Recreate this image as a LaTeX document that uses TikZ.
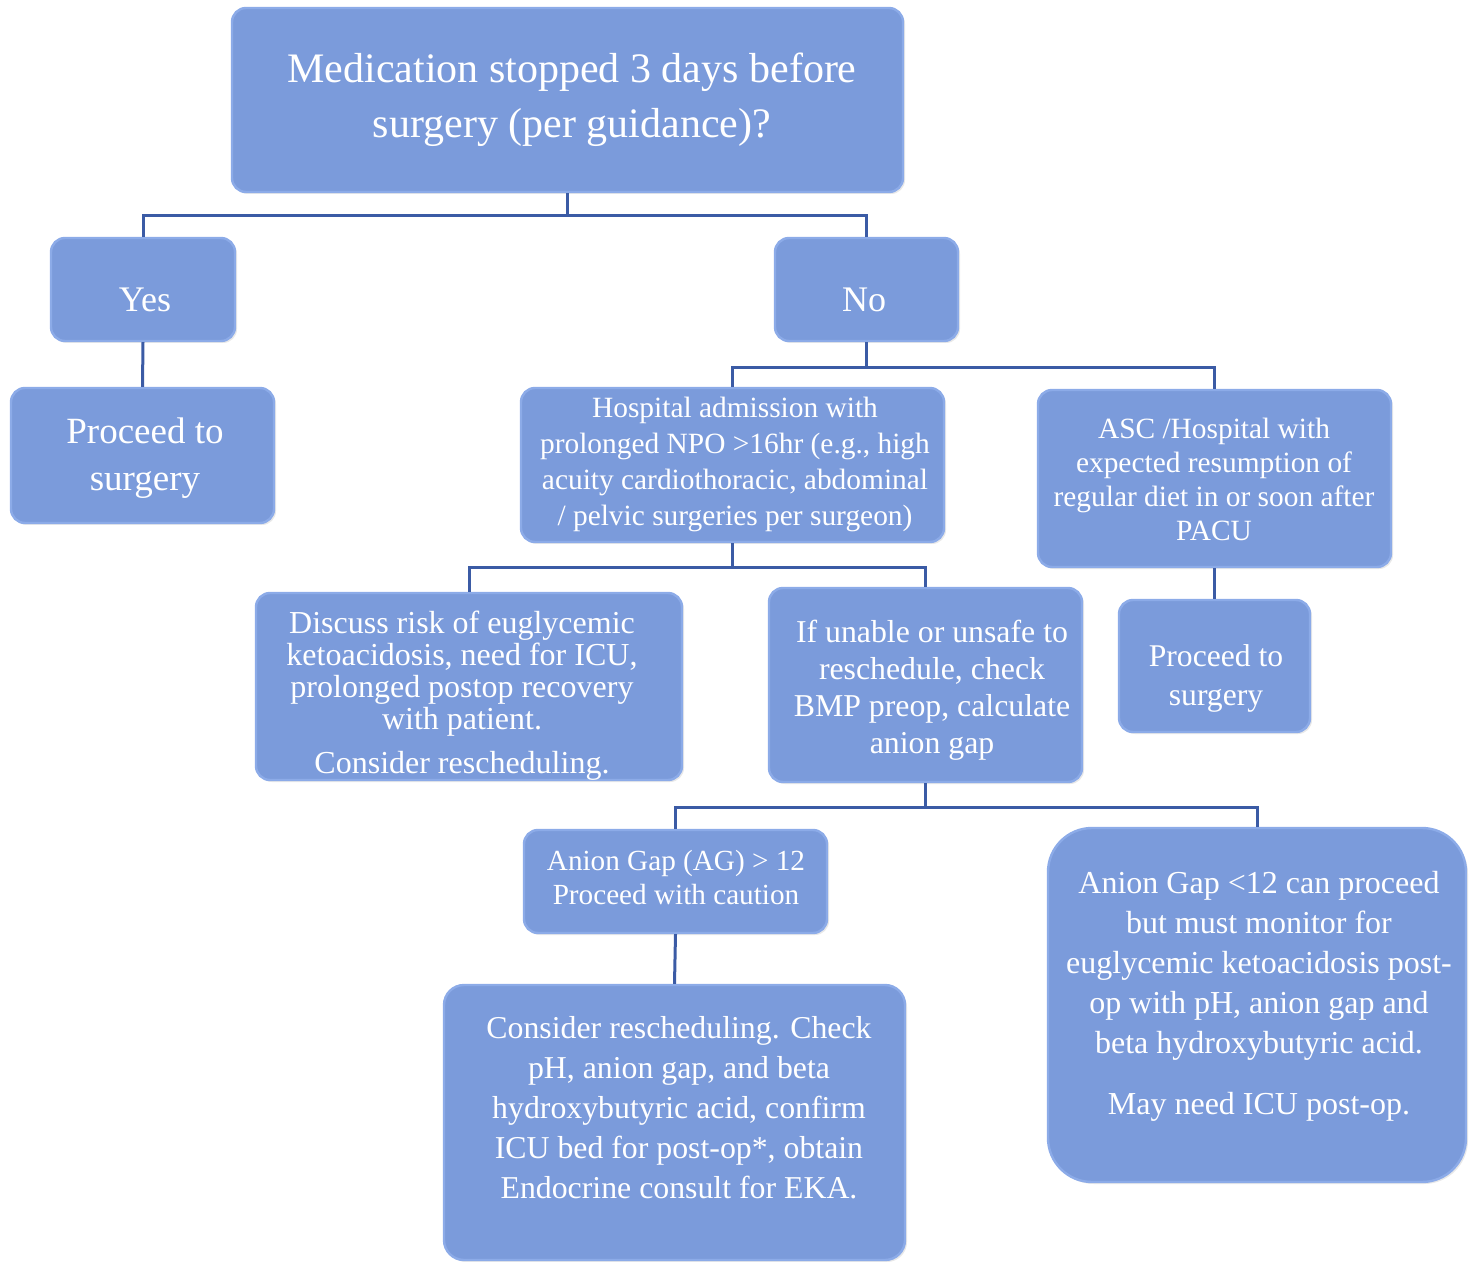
\documentclass[tikz,border=0pt]{standalone}
\usepackage{fontspec}
\setmainfont{Liberation Serif}
\usetikzlibrary{shadows}
\definecolor{boxblue}{HTML}{7B9BDB}
\definecolor{edgeblue}{HTML}{8CABE8}
\definecolor{connblue}{HTML}{3B5BA5}
\tikzset{
  boxshape/.style={draw=edgeblue, line width=1.2pt, fill=boxblue, rounded corners=7pt,
    inner sep=0pt, drop shadow={opacity=0.18, shadow xshift=1pt, shadow yshift=-1pt}},
  boxtext/.style={text=white, align=center, inner sep=0pt, yshift=-1.5pt},
  conn/.style={draw=connblue, line width=1.5pt}
}
\begin{document}
\begin{tikzpicture}[x=0.5pt, y=-0.5pt]
\useasboundingbox (0,0) rectangle (1473,1262);
% boxes
\node[boxshape, minimum width=335.5pt, minimum height=92pt] (top) at (567.5,100) {};
\node[boxshape, minimum width=92pt, minimum height=51.5pt] (yes) at (143,289.5) {};
\node[boxshape, minimum width=91.5pt, minimum height=51.5pt] (no) at (866.5,289.5) {};
\node[boxshape, minimum width=131.5pt, minimum height=67.5pt] (procL) at (142.5,455.5) {};
\node[boxshape, minimum width=211.5pt, minimum height=77pt] (hosp) at (732.5,465) {};
\node[boxshape, minimum width=176.5pt, minimum height=88.5pt] (asc) at (1214.5,478.5) {};
\node[boxshape, minimum width=213pt, minimum height=93.5pt] (disc) at (469,686.5) {};
\node[boxshape, minimum width=156.5pt, minimum height=97pt] (unable) at (925.5,685) {};
\node[boxshape, minimum width=95.5pt, minimum height=66pt] (procR) at (1214.5,666) {};
\node[boxshape, minimum width=151.5pt, minimum height=51.5pt] (aghi) at (675.5,881.5) {};
\node[boxshape, rounded corners=10pt, minimum width=230.5pt, minimum height=137.5pt] (cons) at (674.5,1122.5) {};
\node[boxshape, rounded corners=22pt, minimum width=209pt, minimum height=177pt] (aglo) at (1257,1005) {};
% texts
\node[boxtext, font=\fontsize{21pt}{27.5pt}\selectfont] (topT) at (572,97) {Medication stopped 3 days before\\surgery (per guidance)?};
\node[boxtext, font=\fontsize{18pt}{22pt}\selectfont] (yesT) at (145,297) {Yes};
\node[boxtext, font=\fontsize{18pt}{22pt}\selectfont] (noT) at (864,297) {No};
\node[boxtext, font=\fontsize{18.5pt}{23.5pt}\selectfont] (procLT) at (145,455) {Proceed to\\surgery};
\node[boxtext, font=\fontsize{14.7pt}{18pt}\selectfont] (hospT) at (735,461) {Hospital admission with\\prolonged NPO >16hr (e.g., high\\acuity cardiothoracic, abdominal\\/ pelvic surgeries per surgeon)};
\node[boxtext, font=\fontsize{14.7pt}{17pt}\selectfont] (ascT) at (1214,476) {ASC /Hospital with\\expected resumption of\\regular diet in or soon after\\PACU};
\node[boxtext, font=\fontsize{16pt}{16pt}\selectfont] (discT) at (462,693) {Discuss risk of euglycemic\\ketoacidosis, need for ICU,\\prolonged postop recovery\\with patient.\\[6pt]Consider rescheduling.};
\node[boxtext, font=\fontsize{15.9pt}{18.5pt}\selectfont] (unableT) at (932,687) {If unable or unsafe to\\reschedule, check\\BMP preop, calculate\\anion gap};
\node[boxtext, font=\fontsize{15.8pt}{19.5pt}\selectfont] (procRT) at (1216,675) {Proceed to\\surgery};
\node[boxtext, font=\fontsize{14.6pt}{17pt}\selectfont] (aghiT) at (676,875) {Anion Gap (AG) > 12\\Proceed with caution};
\node[boxtext, font=\fontsize{15.9pt}{20pt}\selectfont] (consT) at (679,1105) {Consider rescheduling. Check\\pH, anion gap, and beta\\hydroxybutyric acid, confirm\\ICU bed for post-op*, obtain\\Endocrine consult for EKA.};
\node[boxtext, font=\fontsize{16pt}{20pt}\selectfont] (agloT) at (1259,993) {Anion Gap <12 can proceed\\but must monitor for\\euglycemic ketoacidosis post-\\op with pH, anion gap and\\beta hydroxybutyric acid.\\[10.5pt]May need ICU post-op.};
% connectors
\draw[conn] (top.south) -- ++(0,22) coordinate (j1);
\draw[conn] (yes.north) |- (j1) -| (no.north);
\draw[conn] (yes.south) -- (procL.north);
\draw[conn] (no.south) -- ++(0,25) coordinate (j2);
\draw[conn] (hosp.north) |- (j2) -| (asc.north);
\draw[conn] (hosp.south) -- ++(0,24) coordinate (j3);
\draw[conn] (disc.north) |- (j3) -| (unable.north);
\draw[conn] (asc.south) -- (procR.north);
\draw[conn] (unable.south) -- ++(0,24) coordinate (j4);
\draw[conn] (aghi.north) |- (j4) -| (aglo.north);
\draw[conn] (aghi.south) -- (cons.north);
\end{tikzpicture}
\end{document}
